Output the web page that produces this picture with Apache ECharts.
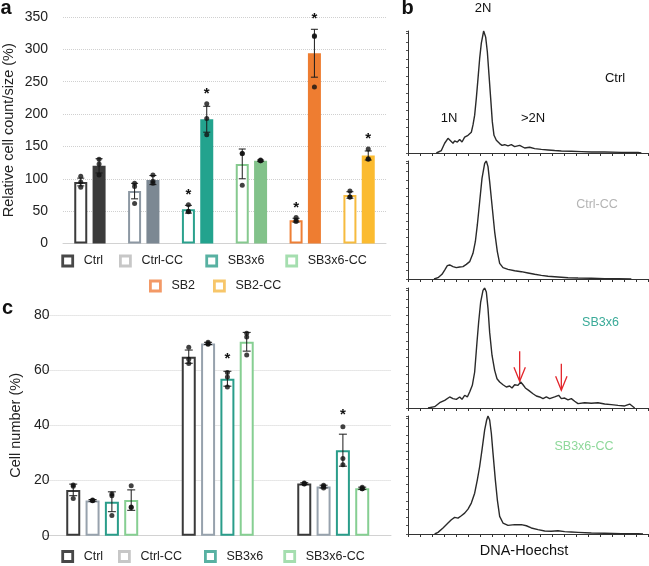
<!DOCTYPE html>
<html><head><meta charset="utf-8">
<script src="https://cdn.jsdelivr.net/npm/echarts@6/dist/echarts.min.js"></script>
<style>html,body{margin:0;padding:0;background:#fff}#c{width:649px;height:566px}</style>
</head><body><div id="c"></div>
<script>
// ---------- Panel a ----------
const catsA = ['Ctrl','Ctrl-CC','SB3x6','SB3x6-CC','SB2','SB2-CC'];
const countMeanA = [95, 81, 53, 123, 36, 75];
const countErrA  = [6, 12, 6, 23, 3, 5];
const countDotsA = [[104,95,87],[93,62,88],[60,50,49],[139,139,90],[40,36,34],[81,72,72]];
const countSigA  = [0,0,1,0,1,0];
const sizeMeanA  = [120, 98, 192, 128, 294, 136];
const sizeErrA   = [11, 7, 20, 1, 37, 7];
const sizeDotsA  = [[130,123,106],[106,96,93],[216,193,168],[129,128,128],[321,320,242],[146,131,130]];
const sizeSigA   = [0,0,1,0,1,1];
const yTicksA = [0, 350, 50];

// ---------- Panel c ----------
const catsC = ['1N','2N','>2N'];
const groupsC = ['Ctrl','Ctrl-CC','SB3x6','SB3x6-CC'];
const meanC = [[16.6,64.9,18.9],[12.8,69.7,17.8],[12.3,56.9,31.0],[12.9,70.3,17.2]];
const errC  = [[2.1,2.4,0.3],[0.3,0.4,0.5],[3.6,2.7,5.8],[3.7,3.4,0.4]];
const dotsC = [
  [[18.4,17.9,13.5],[68.3,64.0,62.4],[19.1,18.8,18.7]],
  [[12.9,12.8,12.7],[70.1,69.6,69.4],[18.3,17.8,17.3]],
  [[15.1,14.5,7.3],[59.2,57.5,53.9],[39.5,28.0,25.7]],
  [[18.1,10.4,10.2],[73.4,72.0,65.5],[17.6,17.0,17.0]]
];
const sigC = [[0,0,0],[0,0,0],[0,1,1],[0,0,0]];
const yTicksC = [0, 80, 20];

// ---------- Panel b (DNA-Hoechst histograms, channel vs % of peak) ----------
const histCtrl = [[85,0],[100,2],[110,8],[120,12],[125,11],[135,8],[140,10],[148,9],[155,11],[162,9],[170,13],[180,14.5],[190,17],[195,23],[200,31],[205,45],[210,61],[215,77.5],[220,90],[227,100],[233,95],[238,83],[243,64],[248,45],[253,25.5],[258,14.5],[265,10.4],[275,7.7],[282,6.3],[290,6.8],[300,5.8],[310,6.8],[320,5.2],[335,6.3],[350,4.1],[365,4.7],[380,3.6],[400,3],[420,2.5],[440,2],[460,1.6],[490,1.4],[520,1.1],[550,0.8],[590,0.8],[640,0.5],[690,0.5],[700,0]];
const histCtrlCC = [[78,0],[90,1.1],[102,4],[110,7.6],[118,11.3],[125,11.9],[135,10.5],[145,9.6],[155,10.2],[165,10.5],[175,12.4],[185,14.7],[195,21.8],[202,31.6],[208,45.8],[215,65.5],[222,85.3],[230,97.9],[235,100],[240,95.2],[245,82.5],[252,62.7],[260,40],[268,23.2],[275,13.3],[285,9.6],[300,8.2],[320,7],[340,6.2],[360,5.1],[380,4],[400,3.1],[420,2.3],[450,1.7],[480,1.1],[510,0.8],[550,0.6],[590,0.3],[630,0.3],[670,0]];
const histSB3x6 = [[60,0],[80,1.1],[95,4.4],[110,6.4],[125,9.2],[135,7.8],[145,7.2],[155,9.2],[162,7.2],[170,10.6],[178,9.2],[185,13.3],[193,18.9],[200,30],[207,55],[212,71.7],[218,88.3],[225,98],[230,100],[235,96.7],[240,83],[245,63],[252,44],[260,31.4],[267,24.4],[275,21.7],[285,19.4],[295,17.5],[305,18.3],[312,16.7],[320,19.4],[330,18.9],[338,21.7],[345,19.4],[352,16.7],[362,14.7],[375,11.9],[385,10],[395,9.2],[405,7.8],[415,9.2],[425,7.8],[440,9.2],[452,10.6],[460,7.8],[470,8.3],[480,6.7],[490,7.8],[500,5.6],[510,3.6],[530,4.4],[550,3.9],[570,4.4],[590,3.3],[610,2.8],[630,2.2],[650,1.7],[665,3.3],[680,0]];
const histSB3x6CC = [[80,0],[90,1.4],[105,5.1],[120,9.3],[130,12.1],[140,14.1],[150,13.5],[160,15.5],[170,17.7],[180,21.1],[190,26.2],[200,34.6],[208,45.9],[215,57.2],[222,71.3],[230,88.2],[236,96.6],[240,100],[245,96.6],[250,85.4],[255,68.5],[262,45.9],[268,29],[275,14.9],[285,9.3],[300,7.3],[320,7.9],[340,7.9],[355,7],[370,5.1],[390,3.7],[410,2.5],[430,2.3],[450,2.8],[470,2],[490,1.7],[510,1.4],[550,0.8],[590,0.6],[640,0.3],[690,0.3],[705,0]];
const arrowMarks = [[335,47.2,22.2],[460,36.9,14.7]]; // [channel, arrow start, arrow tip]
const histNames = ['Ctrl','Ctrl-CC','SB3x6','SB3x6-CC'];

// ---------- styles ----------
const FONT = 'Liberation Sans, Arial, sans-serif';
const outlineColA = ['#3b3b3b','#8d98a3','#2ba18d','#86c98f','#ee7f35','#f6bb3f'];
const fillColA    = ['#3b3b3b','#7c8893','#23a38e','#82c28a','#ee7d31','#fbbb30'];
const outlineColC = ['#3a3a3a','#97a2ad','#2a9d8a','#86cf92'];
const legendCol = {'Ctrl':'#1a1a1a','Ctrl-CC':'#b9b9b9','SB3x6':'#2e9d8b','SB3x6-CC':'#8fd69b','SB2':'#f08040','SB2-CC':'#f5b845'};
const histLabelCol = ['#111','#b4b4b4','#3aaa98','#8ed89a'];

const chart = echarts.init(document.getElementById('c'), null, {renderer:'canvas'});

function errSeries(xi, yi, data, offset, capHalf, z) {
  return {
    type:'custom', xAxisIndex:xi, yAxisIndex:yi, z:z||4, silent:true,
    encode:{x:0, y:1},
    data: data,
    renderItem: function(params, api){
      const x = api.value(0), m = api.value(1), e = api.value(2);
      const t = api.coord([x, m+e]), b = api.coord([x, m-e]);
      const cx = t[0] + offset;
      const st = {stroke:'#1a1a1a', lineWidth:1};
      return {type:'group', children:[
        {type:'line', shape:{x1:cx,y1:t[1],x2:cx,y2:b[1]}, style:st},
        {type:'line', shape:{x1:cx-capHalf,y1:t[1],x2:cx+capHalf,y2:t[1]}, style:st},
        {type:'line', shape:{x1:cx-capHalf,y1:b[1],x2:cx+capHalf,y2:b[1]}, style:st}
      ]};
    }
  };
}
function dotSeries(xi, yi, data, offset) {
  return {type:'scatter', xAxisIndex:xi, yAxisIndex:yi, z:5, silent:true,
    symbol:'circle', symbolSize:5, symbolOffset:[offset,0],
    itemStyle:{color:'#111'}, data:data};
}
function starSeries(xi, yi, data, offset, lift) {
  return {type:'custom', xAxisIndex:xi, yAxisIndex:yi, z:6, silent:true,
    encode:{x:0,y:1}, data:data,
    renderItem:function(params, api){
      const p = api.coord([api.value(0), api.value(1)]);
      return {type:'text', x:p[0]+offset, y:p[1]-lift,
        style:{text:'*', font:'bold 15px '+FONT, fill:'#111', align:'center', verticalAlign:'middle', textAlign:'center', textVerticalAlign:'middle'}};
    }};
}

const series = [];
// panel a bars
const pitchA = 13 + 13*0.41;
series.push({type:'bar', xAxisIndex:0, yAxisIndex:0, barWidth:13, barGap:'41%', silent:true,
  data: countMeanA.map((v,i)=>({value:v, itemStyle:{color:'#fff', borderColor:outlineColA[i], borderWidth:2}}))});
series.push({type:'bar', xAxisIndex:0, yAxisIndex:0, barWidth:13, barGap:'41%', silent:true,
  data: sizeMeanA.map((v,i)=>({value:v, itemStyle:{color:fillColA[i], borderColor:fillColA[i], borderWidth:2}}))});
series.push(errSeries(0,0, countMeanA.map((v,i)=>[i,v,countErrA[i]]), -pitchA/2, 3.5));
series.push(errSeries(0,0, sizeMeanA.map((v,i)=>[i,v,sizeErrA[i]]), pitchA/2, 3.5));
const flatDots = (arr)=>{const o=[];arr.forEach((d,i)=>d.forEach(v=>o.push([i,v])));return o;};
series.push(dotSeries(0,0, flatDots(countDotsA), -pitchA/2));
series.push(dotSeries(0,0, flatDots(sizeDotsA), pitchA/2));
const topOf = (m,e,d)=>Math.max(m+e, ...d);
series.push(starSeries(0,0, countSigA.map((s,i)=>s?[i, topOf(countMeanA[i],countErrA[i],countDotsA[i])]:null).filter(Boolean), -pitchA/2, 10));
series.push(starSeries(0,0, sizeSigA.map((s,i)=>s?[i, topOf(sizeMeanA[i],sizeErrA[i],sizeDotsA[i])]:null).filter(Boolean), pitchA/2, 10));

// panel c bars
const pitchC = 14 + 14*0.38;
groupsC.forEach((g,k)=>{
  series.push({type:'bar', xAxisIndex:1, yAxisIndex:1, barWidth:14, barGap:'38%', silent:true,
    data: meanC[k].map(v=>({value:v, itemStyle:{color:'#fff', borderColor:outlineColC[k], borderWidth:2}}))});
});
groupsC.forEach((g,k)=>{
  const off = (k-1.5)*pitchC;
  series.push(errSeries(1,1, meanC[k].map((v,i)=>[i,v,errC[k][i]]), off, 4));
  series.push(dotSeries(1,1, flatDots(dotsC[k]), off));
  series.push(starSeries(1,1, sigC[k].map((s,i)=>s?[i, topOf(meanC[k][i],errC[k][i],dotsC[k][i])]:null).filter(Boolean), off, 12));
});

// legend dummy series
Object.keys(legendCol).forEach(n=>{
  series.push({type:'scatter', name:n, xAxisIndex:0, yAxisIndex:0, data:[], itemStyle:{color:'#fff', borderColor:legendCol[n], borderWidth:2.5}});
});

// histograms
[histCtrl, histCtrlCC, histSB3x6, histSB3x6CC].forEach((h,k)=>{
  series.push({type:'line', name:'hist'+k, xAxisIndex:2+k, yAxisIndex:2+k, data:h, showSymbol:false, silent:true,
    lineStyle:{color:'#2a2a2a', width:1.4}, z:3});
});
// red arrows in SB3x6 histogram
series.push({type:'custom', xAxisIndex:4, yAxisIndex:4, z:6, silent:true, encode:{x:0,y:1},
  data: arrowMarks,
  renderItem:function(params, api){
    const a = api.coord([api.value(0), api.value(1)]);
    const b = api.coord([api.value(0), api.value(2)]);
    const st = {stroke:'#e3252b', lineWidth:1.3, fill:null};
    return {type:'group', children:[
      {type:'line', shape:{x1:a[0],y1:a[1],x2:b[0],y2:b[1]}, style:st},
      {type:'polyline', shape:{points:[[b[0]-5.7,b[1]-14],[b[0],b[1]],[b[0]+5.7,b[1]-14]]}, style:st}
    ]};
  }});

function legendItem(name, left, top) {
  return {data:[name], left:left, top:top, padding:0, itemWidth:10, itemHeight:10, icon:'rect',
    selectedMode:false, itemStyle:{color:'#fff', borderColor:legendCol[name], borderWidth:2.8},
    textStyle:{fontFamily:FONT, fontSize:12.5, color:'#222', padding:[0,0,0,6]}};
}
const legends = [
  legendItem('Ctrl', 61.3, 254.5), legendItem('Ctrl-CC', 119, 254.5), legendItem('SB3x6', 205.3, 254.5), legendItem('SB3x6-CC', 285.3, 254.5),
  legendItem('SB2', 149, 279.5), legendItem('SB2-CC', 213, 279.5),
  legendItem('Ctrl', 61.3, 550), legendItem('Ctrl-CC', 118, 550), legendItem('SB3x6', 204, 550), legendItem('SB3x6-CC', 283.3, 550)
];

const histGrids = [[31,122],[161,118],[288,120],[416,118]];
const grids = [
  {left:62, top:17, width:324, height:226.5},
  {left:42, top:315, width:349, height:220.7}
].concat(histGrids.map(g=>({left:408, top:g[0], width:240, height:g[1]})));

const xAxes = [
  {type:'category', gridIndex:0, data:catsA, axisLine:{lineStyle:{color:'#d2d2d2'}}, axisTick:{show:false}, axisLabel:{show:false}},
  {type:'category', gridIndex:1, data:catsC, axisLine:{lineStyle:{color:'#d2d2d2'}}, axisTick:{show:false}, axisLabel:{show:false}}
].concat(histGrids.map((g,k)=>({type:'value', gridIndex:2+k, min:0, max:720, interval:36,
  axisLine:{show:true, lineStyle:{color:'#333', width:1}}, axisTick:{show:true, length:3, lineStyle:{color:'#333'}},
  axisLabel:{show:false}, splitLine:{show:false}})));
const yAxes = [
  {type:'value', gridIndex:0, min:yTicksA[0], max:yTicksA[1], interval:yTicksA[2],
    axisLabel:{fontFamily:FONT, fontSize:14, color:'#222', margin:15},
    splitLine:{lineStyle:{type:'dotted', color:'#d0d0d0'}},
    name:'Relative cell count/size (%)', nameLocation:'middle', nameGap:47,
    nameTextStyle:{fontFamily:FONT, fontSize:14.5, color:'#222'}},
  {type:'value', gridIndex:1, min:yTicksC[0], max:yTicksC[1], interval:yTicksC[2],
    axisLabel:{fontFamily:FONT, fontSize:14, color:'#222', margin:-5},
    splitLine:{lineStyle:{type:'dotted', color:'#d0d0d0'}},
    name:'Cell number (%)', nameLocation:'middle', nameGap:20,
    nameTextStyle:{fontFamily:FONT, fontSize:14.5, color:'#222'}}
].concat(histGrids.map((g,k)=>({type:'value', gridIndex:2+k, min:0, max:100, interval:7,
  axisLine:{show:true, lineStyle:{color:'#333', width:1}}, axisTick:{show:true, length:2, lineStyle:{color:'#555'}},
  axisLabel:{show:false}, splitLine:{show:false}})));

function txt(text, x, y, font, color) {
  return {type:'text', x:x, y:y, silent:true,
    style:{text:text, font:font, fill:color||'#111', align:'center', verticalAlign:'middle', textAlign:'center', textVerticalAlign:'middle'}};
}
const B = 'bold 20px '+FONT, N13 = '13px '+FONT, N12 = '12.5px '+FONT;
const graphics = [
  txt('a', 6, 8, B), txt('b', 407.5, 8.3, B), txt('c', 7.5, 308.3, B),
  txt('2N', 483, 8, N13), txt('1N', 449, 118, N13), txt('>2N', 533, 118, N13),
  txt(histNames[0], 615, 78, N13, histLabelCol[0]),
  txt(histNames[1], 597, 205, N12, histLabelCol[1]),
  txt(histNames[2], 600.5, 323, N12, histLabelCol[2]),
  txt(histNames[3], 584, 446.7, N12, histLabelCol[3]),
  txt('DNA-Hoechst', 524, 551, '14.5px '+FONT, '#111')
];

chart.setOption({
  animation:false,
  backgroundColor:'#fff',
  textStyle:{fontFamily:FONT},
  grid:grids, xAxis:xAxes, yAxis:yAxes,
  legend:legends,
  series:series,
  graphic:graphics
});
</script></body></html>
